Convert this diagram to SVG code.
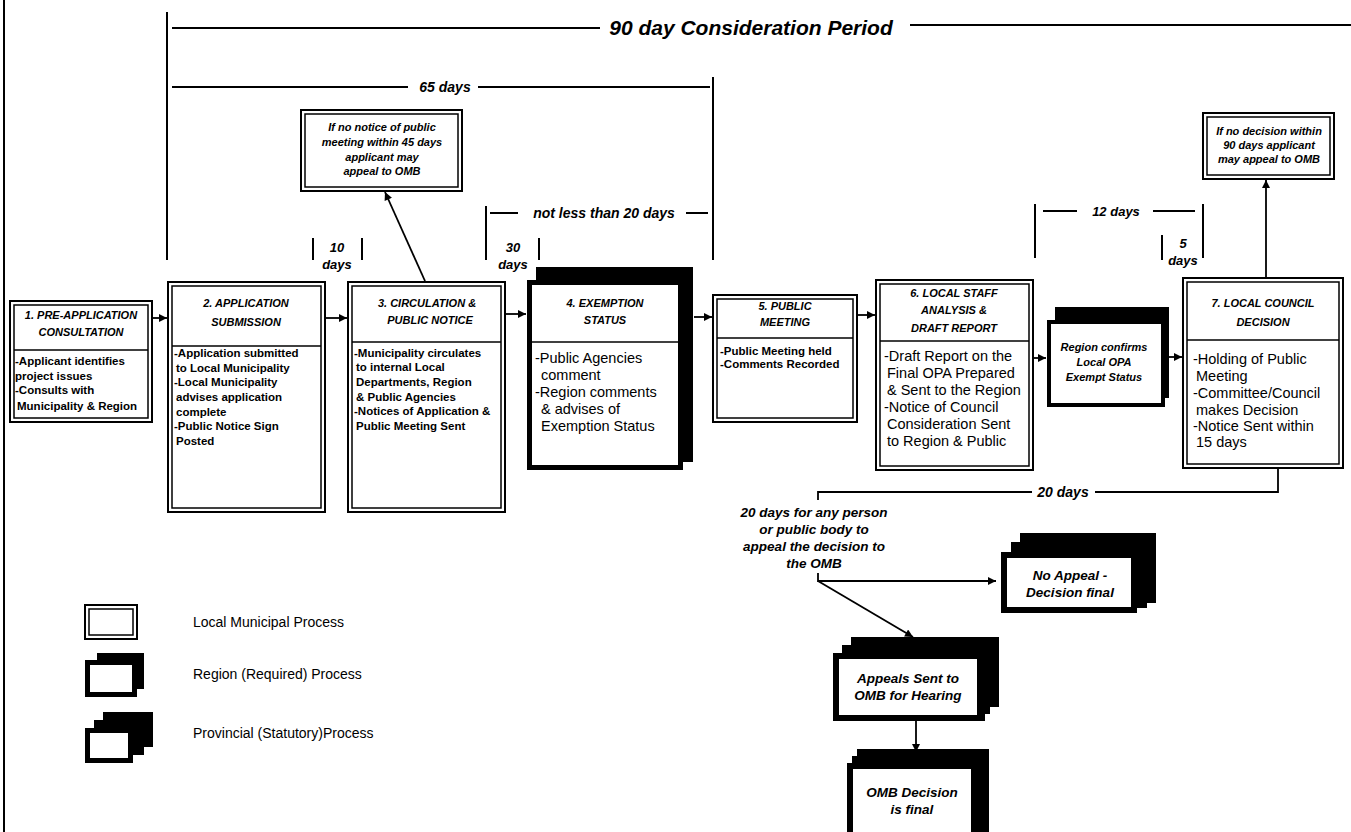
<svg xmlns="http://www.w3.org/2000/svg" width="1351" height="832" viewBox="0 0 1351 832">
<defs>
<marker id="ah" viewBox="0 0 10 10" refX="10" refY="5" markerWidth="9" markerHeight="8" markerUnits="userSpaceOnUse" orient="auto"><path d="M0,0 L10,5 L0,10 z" fill="#000"/></marker>
<style>
.ln{stroke:#000;stroke-width:2;fill:none}
.c{stroke:#000;stroke-width:1.8;fill:none}
.outer{fill:#fff;stroke:#000;stroke-width:2}
.inner{fill:none;stroke:#000;stroke-width:1.5}
.reg{fill:#fff;stroke:#000;stroke-width:5}
.blk{fill:#000}
.wht{fill:#fff}
text{font-family:"Liberation Sans",Arial,sans-serif;fill:#000}
.hd{font-size:11px;font-weight:bold;font-style:italic;text-anchor:middle}
.sm{font-size:11.5px;font-weight:bold}
.lg{font-size:14.5px}
.dim{font-size:14px;font-weight:bold;font-style:italic;text-anchor:middle}
.note{font-size:11px;font-weight:bold;font-style:italic;text-anchor:middle}
.prov{font-size:13.5px;font-weight:bold;font-style:italic;text-anchor:middle}
.leg{font-size:14px}
</style>
</defs>
<rect width="1351" height="832" fill="#fff"/>

<g id="timeline">
<line class="ln" x1="4" y1="0" x2="4" y2="832"/>
<line class="ln" x1="167" y1="12" x2="167" y2="260"/>
<line class="ln" x1="172" y1="28" x2="600" y2="28"/>
<text x="751" y="35" style="font-size:21px;font-weight:bold;font-style:italic;text-anchor:middle">90 day Consideration Period</text>
<line class="ln" x1="910" y1="25" x2="1351" y2="25"/>
<line class="ln" x1="172" y1="87" x2="408" y2="87"/>
<text class="dim" x="445" y="92">65 days</text>
<line class="ln" x1="478" y1="87" x2="710" y2="87"/>
<line class="ln" x1="713" y1="77" x2="713" y2="260"/>
<line class="ln" x1="486" y1="206" x2="486" y2="260"/>
<line class="ln" x1="490" y1="213" x2="518" y2="213"/>
<text class="dim" x="604" y="218">not less than 20 days</text>
<line class="ln" x1="686" y1="213" x2="708" y2="213"/>
<line class="ln" x1="313" y1="238" x2="313" y2="260"/>
<line class="ln" x1="362" y1="238" x2="362" y2="260"/>
<text class="dim" x="337" y="252" style="font-size:13px">10</text>
<text class="dim" x="337" y="269" style="font-size:13px">days</text>
<line class="ln" x1="539" y1="238" x2="539" y2="260"/>
<text class="dim" x="513" y="252" style="font-size:13px">30</text>
<text class="dim" x="513" y="269" style="font-size:13px">days</text>
<line class="ln" x1="1035" y1="204" x2="1035" y2="258"/>
<line class="ln" x1="1043" y1="211" x2="1077" y2="211"/>
<text class="dim" x="1116" y="216" style="font-size:13px">12 days</text>
<line class="ln" x1="1153" y1="211" x2="1195" y2="211"/>
<line class="ln" x1="1203" y1="204" x2="1203" y2="258"/>
<line class="ln" x1="1162" y1="235" x2="1162" y2="260"/>
<text class="dim" x="1183" y="248" style="font-size:13px">5</text>
<text class="dim" x="1183" y="265" style="font-size:13px">days</text>
</g>

<g id="alert1">
<rect class="outer" x="301" y="110" width="161" height="81"/>
<rect class="inner" x="305" y="114" width="153" height="73"/>
<text class="note" x="382" y="131">If no notice of public</text>
<text class="note" x="382" y="146">meeting within 45 days</text>
<text class="note" x="382" y="161">applicant may</text>
<text class="note" x="382" y="175">appeal to OMB</text>
</g>

<g id="alert2">
<rect class="outer" x="1203" y="113" width="131" height="66"/>
<rect class="inner" x="1207" y="117" width="123" height="58"/>
<text class="note" x="1269" y="135">If no decision within</text>
<text class="note" x="1269" y="149">90 days applicant</text>
<text class="note" x="1269" y="163">may appeal to OMB</text>
</g>

<g id="box1">
<rect class="outer" x="10" y="301" width="142" height="121"/>
<rect class="inner" x="14" y="305" width="134" height="113"/>
<line class="inner" x1="14" y1="350" x2="148" y2="350"/>
<text class="hd" x="81" y="319">1. PRE-APPLICATION</text>
<text class="hd" x="81" y="336">CONSULTATION</text>
<text class="sm" x="15" y="365">-Applicant identifies</text>
<text class="sm" x="15" y="380">project issues</text>
<text class="sm" x="15" y="394">-Consults with</text>
<text class="sm" x="17" y="410">Municipality &amp; Region</text>
</g>

<g id="box2">
<rect class="outer" x="168" y="282" width="157" height="230"/>
<rect class="inner" x="172" y="286" width="149" height="222"/>
<line class="inner" x1="172" y1="346" x2="321" y2="346"/>
<text class="hd" x="246" y="307">2. APPLICATION</text>
<text class="hd" x="246" y="326">SUBMISSION</text>
<text class="sm" x="174" y="357">-Application submitted</text>
<text class="sm" x="176" y="372">to Local Municipality</text>
<text class="sm" x="174" y="386">-Local Municipality</text>
<text class="sm" x="176" y="401">advises application</text>
<text class="sm" x="176" y="416">complete</text>
<text class="sm" x="174" y="430">-Public Notice Sign</text>
<text class="sm" x="176" y="445">Posted</text>
</g>

<g id="box3">
<rect class="outer" x="348" y="282" width="157" height="230"/>
<rect class="inner" x="352" y="286" width="149" height="222"/>
<line class="inner" x1="352" y1="342" x2="501" y2="342"/>
<text class="hd" x="427" y="307">3. CIRCULATION &amp;</text>
<text class="hd" x="430" y="324">PUBLIC NOTICE</text>
<text class="sm" x="354" y="357">-Municipality circulates</text>
<text class="sm" x="356" y="371">to internal Local</text>
<text class="sm" x="356" y="386">Departments, Region</text>
<text class="sm" x="356" y="401">&amp; Public Agencies</text>
<text class="sm" x="354" y="415">-Notices of Application &amp;</text>
<text class="sm" x="356" y="430">Public Meeting Sent</text>
</g>

<g id="box4">
<rect class="blk" x="536" y="267" width="157" height="195"/>
<rect class="reg" x="529.5" y="282.5" width="151" height="185"/>
<line class="inner" x1="532" y1="342" x2="678" y2="342"/>
<text class="hd" x="605" y="307">4. EXEMPTION</text>
<text class="hd" x="605" y="324">STATUS</text>
<text class="lg" x="535" y="363">-Public Agencies</text>
<text class="lg" x="541" y="380">comment</text>
<text class="lg" x="535" y="397">-Region comments</text>
<text class="lg" x="541" y="414">&amp; advises of</text>
<text class="lg" x="541" y="431">Exemption Status</text>
</g>

<g id="box5">
<rect class="outer" x="713" y="295" width="144" height="127"/>
<rect class="inner" x="717" y="299" width="136" height="119"/>
<line class="inner" x1="717" y1="338" x2="853" y2="338"/>
<text class="hd" x="785" y="310">5. PUBLIC</text>
<text class="hd" x="785" y="326">MEETING</text>
<text class="sm" x="720" y="355">-Public Meeting held</text>
<text class="sm" x="720" y="368">-Comments Recorded</text>
</g>

<g id="box6">
<rect class="outer" x="876" y="280" width="157" height="190"/>
<rect class="inner" x="880" y="284" width="149" height="182"/>
<line class="inner" x1="880" y1="341" x2="1029" y2="341"/>
<text class="hd" x="954" y="297">6. LOCAL STAFF</text>
<text class="hd" x="954" y="314">ANALYSIS &amp;</text>
<text class="hd" x="954" y="332">DRAFT REPORT</text>
<text class="lg" x="884" y="361">-Draft Report on the</text>
<text class="lg" x="887" y="378">Final OPA Prepared</text>
<text class="lg" x="887" y="395">&amp; Sent to the Region</text>
<text class="lg" x="884" y="412">-Notice of Council</text>
<text class="lg" x="887" y="429">Consideration Sent</text>
<text class="lg" x="887" y="446">to Region &amp; Public</text>
</g>

<g id="region">
<rect class="blk" x="1055" y="307" width="114" height="91"/>
<rect class="reg" x="1049" y="322" width="114" height="83" style="stroke-width:4"/>
<text class="note" x="1104" y="351">Region confirms</text>
<text class="note" x="1104" y="366">Local OPA</text>
<text class="note" x="1104" y="381">Exempt Status</text>
</g>

<g id="box7">
<rect class="outer" x="1183" y="278" width="160" height="190"/>
<rect class="inner" x="1187" y="282" width="152" height="182"/>
<line class="inner" x1="1187" y1="340" x2="1339" y2="340"/>
<text class="hd" x="1263" y="307">7. LOCAL COUNCIL</text>
<text class="hd" x="1263" y="326">DECISION</text>
<text class="lg" x="1193" y="364">-Holding of Public</text>
<text class="lg" x="1196" y="381">Meeting</text>
<text class="lg" x="1193" y="398">-Committee/Council</text>
<text class="lg" x="1196" y="415">makes Decision</text>
<text class="lg" x="1193" y="431">-Notice Sent within</text>
<text class="lg" x="1196" y="447">15 days</text>
</g>

<g id="appealnote">
<text class="prov" x="814" y="517">20 days for any person</text>
<text class="prov" x="814" y="534">or public body to</text>
<text class="prov" x="814" y="551">appeal the decision to</text>
<text class="prov" x="814" y="568">the OMB</text>
</g>

<g id="noappeal">
<rect class="blk" x="1020" y="533" width="136" height="70"/>
<rect class="blk" x="1011" y="542" width="136" height="66"/>
<rect class="blk" x="1001" y="552" width="136" height="61"/>
<rect class="wht" x="1007" y="558" width="124" height="49"/>
<text class="prov" x="1070" y="580">No Appeal -</text>
<text class="prov" x="1070" y="597">Decision final</text>
</g>

<g id="appeals">
<rect class="blk" x="851" y="637" width="148" height="70"/>
<rect class="blk" x="842" y="645" width="148" height="69"/>
<rect class="blk" x="833" y="653" width="152" height="68"/>
<rect class="wht" x="839" y="659" width="138" height="56"/>
<text class="prov" x="908" y="683">Appeals Sent to</text>
<text class="prov" x="908" y="700">OMB for Hearing</text>
</g>

<g id="ombdecision">
<rect class="blk" x="857" y="749" width="132" height="90"/>
<rect class="blk" x="852" y="756" width="131" height="90"/>
<rect class="blk" x="847" y="763" width="130" height="80"/>
<rect class="wht" x="853" y="769" width="118" height="70"/>
<text class="prov" x="912" y="797">OMB Decision</text>
<text class="prov" x="912" y="814">is final</text>
</g>

<g id="legend">
<rect class="outer" x="85" y="605" width="52" height="34"/>
<rect class="inner" x="89" y="609" width="44" height="26"/>
<text class="leg" x="193" y="627">Local Municipal Process</text>
<rect class="blk" x="97" y="653" width="47" height="36"/>
<rect class="reg" x="87.5" y="662.5" width="47" height="32"/>
<text class="leg" x="193" y="679">Region (Required) Process</text>
<rect class="blk" x="103" y="712" width="50" height="35"/>
<rect class="blk" x="94" y="720" width="50" height="35"/>
<rect class="blk" x="85" y="728" width="48" height="35"/>
<rect class="wht" x="90" y="733" width="38" height="25"/>
<text class="leg" x="193" y="738">Provincial (Statutory)Process</text>
</g>

<g id="connectors">
<line class="c" x1="153" y1="318" x2="167" y2="318" marker-end="url(#ah)"/>
<line class="c" x1="326" y1="318" x2="347" y2="318" marker-end="url(#ah)"/>
<line class="c" x1="506" y1="314" x2="526" y2="314" marker-end="url(#ah)"/>
<line class="c" x1="694" y1="317" x2="712" y2="317" marker-end="url(#ah)"/>
<line class="c" x1="858" y1="315" x2="875" y2="315" marker-end="url(#ah)"/>
<line class="c" x1="1034" y1="358" x2="1046" y2="358" marker-end="url(#ah)"/>
<line class="c" x1="1169" y1="357" x2="1182" y2="357" marker-end="url(#ah)"/>
<line class="c" x1="425" y1="281" x2="385" y2="192" marker-end="url(#ah)"/>
<line class="c" x1="1266" y1="278" x2="1266" y2="180" marker-end="url(#ah)"/>
<polyline class="c" points="1278,468 1278,492 1095,492"/>
<polyline class="c" points="1032,492 818,492 818,500"/>
<text class="dim" x="1063" y="497">20 days</text>
<polyline class="c" points="818,573 818,581 996,581" marker-end="url(#ah)"/>
<line class="c" x1="818" y1="581" x2="913" y2="637" marker-end="url(#ah)"/>
<line class="c" x1="916" y1="721" x2="916" y2="752" marker-end="url(#ah)"/>
</g>
</svg>
